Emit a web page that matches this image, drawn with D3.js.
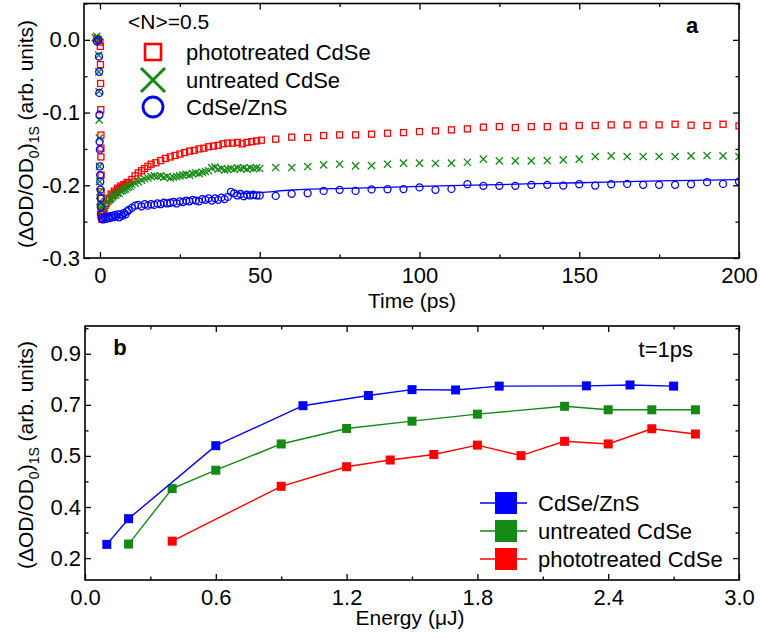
<!DOCTYPE html>
<html>
<head>
<meta charset="utf-8">
<script src="https://cdn.jsdelivr.net/npm/d3@7"></script>
<style>
body { margin: 0; background: #fff; }
svg { display: block; font-family: "Liberation Sans", Arial, sans-serif; }
</style>
</head>
<body>
<div id="chart"></div>
<script>
// ---- panel a: transient bleach, [time (ps), value] ----
var phototreatedA = [
  [-1, 0.002], [-0.5, 0.0], [0, -0.003], [0.1, -0.009], [0.15, -0.034], [0.2, -0.060], [0.25, -0.096],
  [0.3, -0.131], [0.3, -0.149], [0.3, -0.161], [0.35, -0.186], [0.35, -0.209], [0.4, -0.218], [0.4, -0.227],
  [0.45, -0.236], [0.5, -0.243], [0.6, -0.247], [0.8, -0.240], [1, -0.235], [1.3, -0.238], [1.6, -0.228],
  [2, -0.225], [2.5, -0.218], [3, -0.220], [3.5, -0.212], [4, -0.214], [4.5, -0.208], [5, -0.210],
  [5.5, -0.204], [6, -0.206], [6.5, -0.201], [7, -0.203], [7.5, -0.199], [8, -0.200], [8.5, -0.196],
  [9, -0.197], [10, -0.192], [11, -0.187], [12, -0.183], [13, -0.180], [14, -0.177], [15, -0.174],
  [16, -0.171], [17.5, -0.169], [19, -0.166], [20.5, -0.163], [22, -0.161], [23.5, -0.159], [25, -0.157],
  [26.5, -0.155], [28, -0.153], [29.5, -0.152], [31, -0.150], [32.5, -0.149], [34, -0.147], [35.5, -0.146],
  [37, -0.145], [38.5, -0.143], [40, -0.142], [41.5, -0.142], [43, -0.141], [44.5, -0.143], [46, -0.141],
  [47.5, -0.140], [49, -0.139], [50.5, -0.138],
  [55, -0.1366], [60, -0.1338], [65, -0.1343], [70, -0.1316], [75, -0.1307], [80, -0.1307], [85, -0.1297],
  [90, -0.1284], [95, -0.1275], [100, -0.1261], [105, -0.1252], [110, -0.1238], [115, -0.1224], [120, -0.1201],
  [125, -0.1193], [130, -0.1206], [135, -0.1193], [140, -0.1193], [145, -0.1187], [150, -0.1178], [155, -0.1178],
  [160, -0.1169], [165, -0.1169], [170, -0.1169], [175, -0.1169], [180, -0.1160], [185, -0.1174], [190, -0.1178],
  [195, -0.1160], [200, -0.1183]
];

var untreatedA = [
  [-1.5, 0.003], [-1, 0.005], [-0.5, 0.0], [-0.4, -0.021], [-0.35, -0.044], [-0.3, -0.071], [-0.25, -0.110],
  [-0.2, -0.135], [-0.15, -0.174], [-0.1, -0.195], [-0.05, -0.209], [0, -0.222], [0.2, -0.232],
  [0.5, -0.230], [1, -0.228], [1.5, -0.226], [2, -0.223], [2.5, -0.222], [3, -0.219], [3.5, -0.218],
  [4, -0.216], [4.5, -0.214], [5, -0.213], [5.5, -0.211], [6, -0.211], [6.5, -0.208], [7, -0.207],
  [7.5, -0.206], [8, -0.205], [8.5, -0.203], [9, -0.202], [9.5, -0.201], [10, -0.199], [11, -0.197],
  [12, -0.195], [13, -0.193], [14, -0.191], [15, -0.190], [16, -0.188], [17, -0.187], [18, -0.188],
  [19, -0.187], [20, -0.189], [21, -0.188], [22, -0.190], [23, -0.189], [24, -0.188], [25, -0.187],
  [26, -0.186], [27, -0.185], [28, -0.186], [29, -0.184], [30, -0.183], [31, -0.184], [32, -0.182],
  [33, -0.181], [34, -0.180], [35, -0.176], [36, -0.175], [37, -0.178], [38, -0.177], [39, -0.179],
  [40, -0.178], [41, -0.177], [42, -0.178], [43, -0.176], [44, -0.177], [45, -0.176], [46, -0.178],
  [47, -0.176], [48, -0.177], [49, -0.176], [50, -0.177],
  [55, -0.1756], [60, -0.1756], [65, -0.1742], [70, -0.1719], [75, -0.1710], [80, -0.1733], [85, -0.1729],
  [90, -0.1710], [95, -0.1696], [100, -0.1696], [105, -0.1700], [110, -0.1696], [115, -0.1683], [120, -0.1641],
  [125, -0.1664], [130, -0.1664], [135, -0.1664], [140, -0.1660], [145, -0.1651], [150, -0.1641], [155, -0.1605],
  [160, -0.1596], [165, -0.1605], [170, -0.1605], [175, -0.1605], [180, -0.1605], [185, -0.1596], [190, -0.1591],
  [195, -0.1596], [200, -0.1605]
];

var shelledA = [
  [-1, -0.002], [-0.5, 0.0], [-0.3, -0.023], [-0.25, -0.044], [-0.2, -0.073], [-0.15, -0.103], [-0.1, -0.140],
  [-0.05, -0.151], [0, -0.174], [0.05, -0.186], [0.1, -0.195], [0.15, -0.206], [0.2, -0.218], [0.25, -0.230],
  [0.3, -0.240], [0.5, -0.245], [1, -0.247], [1.5, -0.244], [2, -0.246], [2.5, -0.243], [3, -0.245],
  [3.5, -0.242], [4, -0.244], [4.5, -0.241], [5, -0.243], [5.5, -0.240], [6, -0.244], [6.5, -0.240],
  [7, -0.242], [7.5, -0.238], [8, -0.240], [8.5, -0.236], [9, -0.234], [10, -0.231], [11, -0.228],
  [12, -0.227], [13, -0.229], [14, -0.226], [15, -0.228], [16, -0.226], [17, -0.227], [18, -0.225],
  [19, -0.226], [20, -0.224], [21, -0.225], [22, -0.224], [23, -0.223], [24, -0.225], [25, -0.222],
  [26, -0.223], [27, -0.221], [28, -0.222], [29, -0.220], [30, -0.221], [31, -0.222], [32, -0.219],
  [33, -0.220], [34, -0.218], [35, -0.221], [36, -0.218], [37, -0.220], [38, -0.217], [39, -0.219],
  [40, -0.216], [41, -0.209], [42, -0.211], [43, -0.214], [44, -0.212], [45, -0.215], [46, -0.213],
  [47, -0.214], [48, -0.213], [49, -0.214], [50, -0.214],
  [55, -0.2146], [60, -0.2118], [65, -0.2109], [70, -0.2077], [75, -0.2063], [80, -0.2077], [85, -0.2057],
  [90, -0.2054], [95, -0.2052], [100, -0.2029], [105, -0.2063], [110, -0.2050], [115, -0.1985], [120, -0.2008],
  [125, -0.2008], [130, -0.2008], [135, -0.1994], [140, -0.1994], [145, -0.2004], [150, -0.1985], [155, -0.2004],
  [160, -0.1985], [165, -0.1981], [170, -0.1994], [175, -0.1994], [180, -0.1994], [185, -0.1985], [190, -0.1957],
  [195, -0.1981], [200, -0.1949]
];

// fitted curve through the CdSe/ZnS points
var shelledFitT = [43, 50, 60, 80, 100, 125, 150, 175, 200];
var shelledFitV = [-0.2115, -0.2100, -0.2065, -0.2040, -0.2015, -0.1990, -0.1965, -0.1940, -0.1922];

var timeTicks = [0, 50, 100, 150, 200];
var timeMinor = [25, 75, 125, 175];
var bleachTicks = [0, -0.1, -0.2, -0.3];
var bleachLabels = ["0.0", "-0.1", "-0.2", "-0.3"];
var bleachMinor = [0.05, -0.05, -0.15, -0.25];
var legendA = ["phototreated CdSe", "untreated CdSe", "CdSe/ZnS"];

// ---- panel b: bleach at t = 1 ps vs pump energy ----
var energyShelled = [0.1, 0.2, 0.6, 1.0, 1.3, 1.5, 1.7, 1.9, 2.3, 2.5, 2.7];
var valueShelled = [0.222, 0.310, 0.560, 0.697, 0.732, 0.752, 0.751, 0.764, 0.765, 0.768, 0.764];
var energyUntreated = [0.2, 0.4, 0.6, 0.9, 1.2, 1.5, 1.8, 2.2, 2.4, 2.6, 2.8];
var valueUntreated = [0.223, 0.413, 0.476, 0.566, 0.619, 0.644, 0.668, 0.695, 0.683, 0.683, 0.683];
var energyPhoto = [0.4, 0.9, 1.2, 1.4, 1.6, 1.8, 2.0, 2.2, 2.4, 2.6, 2.8];
var valuePhoto = [0.233, 0.421, 0.488, 0.511, 0.530, 0.562, 0.526, 0.575, 0.566, 0.618, 0.600];

var energyTicks = [0, 0.6, 1.2, 1.8, 2.4, 3.0];
var energyLabels = ["0.0", "0.6", "1.2", "1.8", "2.4", "3.0"];
var energyMinor = [0.3, 0.9, 1.5, 2.1, 2.7];
var ampTicks = [0.175, 0.35, 0.525, 0.7, 0.875];
var ampLabels = ["0.2", "0.4", "0.5", "0.7", "0.9"];
var ampMinor = [0.2625, 0.4375, 0.6125, 0.7875, 0.9625];
var legendB = ["CdSe/ZnS", "untreated CdSe", "phototreated CdSe"];

var RED = "#ff0000", GREEN = "#138a13", BLUE = "#0000ff";
var FS = "22px";

var svg = d3.select("#chart").append("svg")
    .attr("width", 760)
    .attr("height", 638);

function styleAxis(g) {
    g.select(".domain").remove();
    g.selectAll(".tick line").attr("stroke", "#000").attr("stroke-width", 1.3);
    g.selectAll("text").attr("fill", "#000").style("font-size", FS);
    g.attr("font-family", null).attr("font-size", null);
}

// draws a boxed frame with inward ticks on all four sides
function drawFrame(x, y, o) {
    var xl = x.range()[0], xr = x.range()[1], yb = y.range()[0], yt = y.range()[1];
    var lab = function(vals, labels) { return function(d) { return labels[vals.indexOf(d)]; }; };

    svg.append("g").attr("transform", "translate(0," + yb + ")")
        .call(d3.axisBottom(x).tickValues(o.xMajor).tickSize(-6).tickPadding(9).tickFormat(lab(o.xMajor, o.xLabels)))
        .call(styleAxis);
    svg.append("g").attr("transform", "translate(0," + yb + ")")
        .call(d3.axisBottom(x).tickValues(o.xMinor).tickSize(-3.5).tickFormat(""))
        .call(styleAxis);
    svg.append("g").attr("transform", "translate(0," + yt + ")")
        .call(d3.axisTop(x).tickValues(o.xMajor).tickSize(-6).tickFormat(""))
        .call(styleAxis);
    svg.append("g").attr("transform", "translate(0," + yt + ")")
        .call(d3.axisTop(x).tickValues(o.xMinor).tickSize(-3.5).tickFormat(""))
        .call(styleAxis);

    svg.append("g").attr("transform", "translate(" + xl + ",0)")
        .call(d3.axisLeft(y).tickValues(o.yMajor).tickSize(-6).tickPadding(4).tickFormat(lab(o.yMajor, o.yLabels)))
        .call(styleAxis);
    svg.append("g").attr("transform", "translate(" + xl + ",0)")
        .call(d3.axisLeft(y).tickValues(o.yMinor).tickSize(-3.5).tickFormat(""))
        .call(styleAxis);
    svg.append("g").attr("transform", "translate(" + xr + ",0)")
        .call(d3.axisRight(y).tickValues(o.yMajor).tickSize(-6).tickFormat(""))
        .call(styleAxis);
    svg.append("g").attr("transform", "translate(" + xr + ",0)")
        .call(d3.axisRight(y).tickValues(o.yMinor).tickSize(-3.5).tickFormat(""))
        .call(styleAxis);

    svg.append("rect")
        .attr("x", xl).attr("y", yt)
        .attr("width", xr - xl).attr("height", yb - yt)
        .attr("fill", "none").attr("stroke", "#000").attr("stroke-width", 1.6);
}

function yTitle(cx, cy) {
    var t = svg.append("text")
        .attr("transform", "translate(" + cx + "," + cy + ") rotate(-90)")
        .attr("text-anchor", "middle")
        .style("font-size", "21px");
    t.append("tspan").text("(\u0394OD/OD");
    t.append("tspan").attr("dy", 6).style("font-size", "14px").text("0");
    t.append("tspan").attr("dy", -6).text(")");
    t.append("tspan").attr("dy", 6).style("font-size", "14px").text("1S");
    t.append("tspan").attr("dy", -6).text(" (arb. units)");
}

var xCross = function(s) { return "M" + (-s) + "," + (-s) + "L" + s + "," + s + "M" + s + "," + (-s) + "L" + (-s) + "," + s; };

// ================= panel a =================
var xa = d3.scaleLinear().domain([-5, 200]).range([84, 739]);
var ya = d3.scaleLinear().domain([-0.3, 0.05]).range([258, 3.5]);

svg.append("clipPath").attr("id", "clipA").append("rect")
    .attr("x", 84).attr("y", 3.5).attr("width", 655).attr("height", 254.5);
var pa = svg.append("g").attr("clip-path", "url(#clipA)");

pa.selectAll(".sq").data(phototreatedA).enter().append("rect")
    .attr("class", "sq")
    .attr("x", d => xa(d[0]) - 3).attr("y", d => ya(d[1]) - 3)
    .attr("width", 6).attr("height", 6)
    .attr("fill", "none").attr("stroke", RED).attr("stroke-width", 1.3);

pa.selectAll(".cr").data(untreatedA).enter().append("path")
    .attr("class", "cr")
    .attr("transform", d => "translate(" + xa(d[0]) + "," + ya(d[1]) + ")")
    .attr("d", xCross(3.6))
    .attr("stroke", GREEN).attr("stroke-width", 1.3).attr("fill", "none");

pa.selectAll(".ci").data(shelledA).enter().append("circle")
    .attr("class", "ci")
    .attr("cx", d => xa(d[0])).attr("cy", d => ya(d[1]))
    .attr("r", 3.5)
    .attr("fill", "none").attr("stroke", BLUE).attr("stroke-width", 1.3);

pa.append("path")
    .datum(d3.zip(shelledFitT, shelledFitV))
    .attr("d", d3.line().x(d => xa(d[0])).y(d => ya(d[1])).curve(d3.curveMonotoneX))
    .attr("fill", "none").attr("stroke", BLUE).attr("stroke-width", 1.3);

drawFrame(xa, ya, {
    xMajor: timeTicks, xLabels: timeTicks.map(String), xMinor: timeMinor,
    yMajor: bleachTicks, yLabels: bleachLabels, yMinor: bleachMinor
});

svg.append("text").attr("x", 412).attr("y", 308).attr("text-anchor", "middle")
    .style("font-size", "21px").text("Time (ps)");
yTitle(33, 134);

svg.append("text").attr("x", 692).attr("y", 33).attr("text-anchor", "middle")
    .style("font-size", FS).style("font-weight", "bold").text("a");
svg.append("text").attr("x", 128).attr("y", 29)
    .style("font-size", "21px").text("<N>=0.5");

var legA = svg.append("g");
var legAy = [52, 80, 107];
legA.append("rect").attr("x", 153 - 8).attr("y", legAy[0] - 8).attr("width", 16).attr("height", 16)
    .attr("fill", "none").attr("stroke", RED).attr("stroke-width", 2.6);
legA.append("path").attr("transform", "translate(153," + legAy[1] + ")").attr("d", xCross(12))
    .attr("stroke", GREEN).attr("stroke-width", 3).attr("fill", "none");
legA.append("circle").attr("cx", 153).attr("cy", legAy[2]).attr("r", 10)
    .attr("fill", "none").attr("stroke", BLUE).attr("stroke-width", 2.8);
legA.selectAll("text").data(legendA).enter().append("text")
    .attr("x", 186).attr("y", (d, i) => legAy[i] + 8)
    .style("font-size", FS).text(d => d);

// ================= panel b =================
var xb = d3.scaleLinear().domain([0, 3]).range([85, 739]);
var yb = d3.scaleLinear().domain([0.1, 0.97]).range([580, 326]);

var seriesB = [
    {name: legendB[2], color: RED, e: energyPhoto, v: valuePhoto},
    {name: legendB[1], color: GREEN, e: energyUntreated, v: valueUntreated},
    {name: legendB[0], color: BLUE, e: energyShelled, v: valueShelled}
];

var lineB = d3.line().x(d => xb(d[0])).y(d => yb(d[1]));
seriesB.forEach(function(s) {
    var pts = d3.zip(s.e, s.v);
    svg.append("path").datum(pts)
        .attr("d", lineB)
        .attr("fill", "none").attr("stroke", s.color).attr("stroke-width", 1.4);
    svg.append("g").selectAll("rect").data(pts).enter().append("rect")
        .attr("x", d => xb(d[0]) - 4.5).attr("y", d => yb(d[1]) - 4.5)
        .attr("width", 9).attr("height", 9)
        .attr("fill", s.color);
});

drawFrame(xb, yb, {
    xMajor: energyTicks, xLabels: energyLabels, xMinor: energyMinor,
    yMajor: ampTicks, yLabels: ampLabels, yMinor: ampMinor
});

svg.append("text").attr("x", 410).attr("y", 625).attr("text-anchor", "middle")
    .style("font-size", "21px").text("Energy (\u03bcJ)");
yTitle(33, 455);

svg.append("text").attr("x", 120).attr("y", 355).attr("text-anchor", "middle")
    .style("font-size", FS).style("font-weight", "bold").text("b");
svg.append("text").attr("x", 693).attr("y", 357).attr("text-anchor", "end")
    .style("font-size", FS).text("t=1ps");

var legBcolors = [BLUE, GREEN, RED];
var legBy = [503, 531, 559];
var legB = svg.append("g");
legBy.forEach(function(yy, i) {
    legB.append("line").attr("x1", 480).attr("x2", 527).attr("y1", yy).attr("y2", yy)
        .attr("stroke", legBcolors[i]).attr("stroke-width", 1.4);
    legB.append("rect").attr("x", 506 - 11).attr("y", yy - 11).attr("width", 22).attr("height", 22)
        .attr("fill", legBcolors[i]);
    legB.append("text").attr("x", 538).attr("y", yy + 8)
        .style("font-size", FS).text(legendB[i]);
});
</script>
</body>
</html>
